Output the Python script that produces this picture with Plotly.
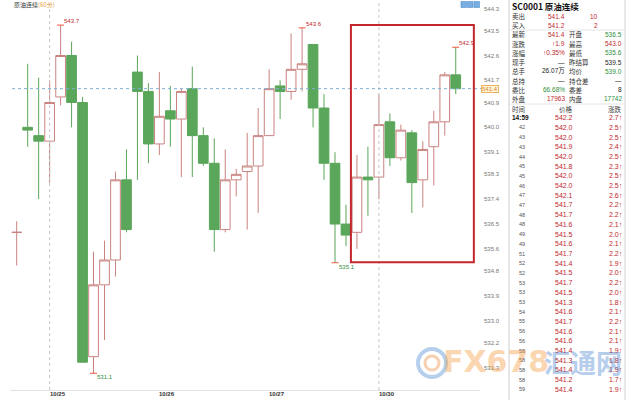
import plotly.graph_objects as go

W, H = 640, 400

# ---------------- data ----------------
idx = list(range(41))
opens = [536.2, 540.0, 539.7, 539.5, 541.1, 542.6, 540.9, 531.7, 534.3, 535.2,
         538.1, 542.0, 541.3, 539.4, 540.6, 540.3, 541.4, 539.7, 538.7, 536.3,
         538.1, 538.4, 538.6, 539.7, 541.5, 541.3, 542.1, 543.0, 540.7, 538.7,
         536.5, 536.2, 538.2, 538.2, 540.2, 538.9, 539.8, 538.1, 539.3, 540.2, 541.9]
highs = [536.6, 542.3, 541.8, 541.7, 543.7, 543.1, 541.1, 535.5, 535.9, 538.4,
         539.2, 542.6, 541.6, 542.0, 541.5, 541.4, 542.2, 540.0, 539.6, 539.2,
         538.5, 539.8, 540.7, 542.1, 541.7, 543.4, 543.6, 543.0, 541.2, 539.1,
         537.2, 539.0, 539.3, 541.2, 540.5, 540.1, 539.9, 539.5, 540.6, 542.0, 542.9]
lows = [535.0, 539.3, 537.4, 538.0, 540.8, 540.0, 531.5, 531.1, 532.3, 534.6,
        536.2, 538.1, 538.7, 539.0, 539.3, 538.2, 538.2, 538.6, 535.5, 536.2,
        537.5, 536.3, 536.9, 539.7, 540.3, 541.0, 541.3, 540.0, 538.1, 535.1,
        535.7, 535.6, 536.8, 537.4, 538.6, 538.8, 536.9, 537.1, 537.9, 539.7, 541.2]
closes = [536.2, 539.9, 539.5, 540.9, 542.6, 540.9, 531.5, 534.3, 535.2, 538.1,
          536.3, 541.3, 539.4, 540.4, 540.3, 541.3, 539.7, 538.7, 536.3, 538.1,
          538.3, 538.6, 539.7, 541.4, 541.3, 542.1, 542.3, 540.7, 538.7, 536.5,
          536.1, 538.2, 538.1, 540.1, 538.9, 539.9, 538.0, 539.2, 540.2, 541.9, 541.4]

date_idx = [3, 13, 23, 33]
date_text = ["10/25", "10/26", "10/27", "10/30"]
sep_idx = [3, 33]

ytick_text = ["544.3", "543.5", "542.6", "541.7", "540.9", "540.0", "539.1", "538.3",
              "537.4", "536.5", "535.6", "534.8", "533.9", "533.0", "532.2", "531.3"]

hi_idx = [4, 26, 40]
lo_idx = [7, 29]

chart_title = "原油连续"
chart_period = "(60分)"
table_title = "SC0001 原油连续"

quote_lbl_l = ["卖出", "买入", "最新", "涨跌", "涨幅", "现手", "总手", "总持", "委比", "外盘"]
quote_val_l = ["541.4", "541.2", "541.4", "↑1.9", "↑0.35%", "—", "26.07万", "—", "66.68%", "17963"]
quote_col_l = ["r", "r", "r", "r", "r", "k", "k", "k", "g", "r"]
quote_lbl_r = ["", "", "开盘", "最高", "最低", "昨结算", "均价", "持仓差", "委差", "内盘"]
quote_val_r = ["10", "2", "536.5", "543.0", "535.6", "539.5", "539.0", "—", "8", "17742"]
quote_col_r = ["r", "r", "g", "r", "g", "k", "g", "k", "k", "g"]

trade_head = ["时间", "价格", "涨跌"]
trade_time = ["14:59", "42", "43", "43", "44", "45", "45", "46", "47", "47", "48", "48", "49", "49", "51",
              "52", "52", "53", "53", "53", "54", "55", "56", "56", "58", "58", "58", "58", "59"]
trade_price = ["542.2", "542.0", "542.0", "541.9", "542.0", "541.8", "542.0", "542.0", "542.1", "541.7",
               "541.7", "541.6", "541.5", "541.6", "541.7", "541.4", "541.5", "541.7", "541.5", "541.3",
               "541.6", "541.7", "541.6", "541.6", "541.4", "541.3", "541.4", "541.2", "541.4"]
trade_chg = ["2.7", "2.5", "2.5", "2.4", "2.5", "2.3", "2.5", "2.5", "2.6", "2.2",
             "2.2", "2.1", "2.0", "2.1", "2.2", "1.9", "2.0", "2.2", "2.0", "1.8",
             "2.1", "2.2", "2.1", "2.1", "1.9", "1.8", "1.9", "1.7", "1.9"]

# ---------------- style ----------------
RED = "#c0272d"
GREEN = "#2e8f3c"
BLACK = "#222222"
UP_LINE = "#c98380"
DN = "#5aa65a"
COLMAP = {"r": RED, "g": GREEN, "k": BLACK}
FONT = "Liberation Sans, Noto Sans CJK SC, sans-serif"
CJK = "Noto Sans CJK SC, Liberation Sans, sans-serif"


def px(x):
    return x / W


def py(y):
    return 1 - y / H


fig = go.Figure()
fig.add_trace(go.Candlestick(
    x=idx, open=opens, high=highs, low=lows, close=closes,
    increasing=dict(line=dict(color=UP_LINE, width=1), fillcolor="white"),
    decreasing=dict(line=dict(color=DN, width=1), fillcolor=DN),
    whiskerwidth=0, showlegend=False, hoverinfo="skip"))

ext_x = [idx[i] for i in hi_idx] + [idx[i] for i in lo_idx]
ext_y = [highs[i] for i in hi_idx] + [lows[i] for i in lo_idx]
fig.add_trace(go.Scatter(x=ext_x, y=ext_y, mode="markers",
                         marker=dict(symbol="line-ew-open", size=5, line=dict(color="#444", width=1)),
                         showlegend=False, hoverinfo="skip"))

ann = []
shapes = []

# extreme labels
for i in hi_idx:
    ann.append(dict(x=idx[i] + 0.15, y=highs[i], xref="x", yref="y", text=f"{highs[i]:.1f}",
                    showarrow=False, xanchor="left", yanchor="middle", yshift=4,
                    font=dict(size=6, color=RED, family=FONT)))
for i in lo_idx:
    ann.append(dict(x=idx[i] + 0.15, y=lows[i], xref="x", yref="y", text=f"{lows[i]:.1f}",
                    showarrow=False, xanchor="left", yanchor="middle", yshift=-4,
                    font=dict(size=6, color=GREEN, family=FONT)))

# date labels
for i, t in zip(date_idx, date_text):
    ann.append(dict(x=i, y=py(394), xref="x", yref="paper", text=f"<b>{t}</b>", showarrow=False,
                    xanchor="left", yanchor="middle", xshift=-2, font=dict(size=6, color="#333", family=FONT)))

# separators
for i in sep_idx:
    shapes.append(dict(type="line", xref="x", yref="paper", x0=i, x1=i, y0=py(390), y1=1,
                       line=dict(color="#c8c8c8", width=1, dash="dot")))

# current price line and tag
last = closes[-1]
shapes.append(dict(type="line", xref="paper", yref="y", x0=px(12), x1=px(481), y0=last, y1=last,
                   line=dict(color="#7fb0d6", width=1, dash="dot")))
ann.append(dict(x=px(489.5), y=last, xref="paper", yref="y", text=f"{last:.1f}", showarrow=False,
                xanchor="center", yanchor="middle", bgcolor="#fff4d8", bordercolor="#efb462",
                borderwidth=1, borderpad=0, font=dict(size=6, color="#d8892e", family=FONT)))

# highlight box
shapes.append(dict(type="rect", xref="x", yref="y", x0=30.45, x1=41.65, y0=535.12, y1=543.70,
                   line=dict(color="#c4262e", width=2), fillcolor="rgba(0,0,0,0)"))

# chart title
ann.append(dict(x=px(12), y=py(4), xref="paper", yref="paper", showarrow=False, xanchor="left",
                yanchor="middle",
                text=f"{chart_title}<span style='color:#e3a03e'>{chart_period}</span>",
                font=dict(size=6, color="#333", family=CJK)))

# small toolbar icons
for x0 in [461, 467.5, 474]:
    shapes.append(dict(type="rect", xref="paper", yref="paper", x0=px(x0), x1=px(x0 + 5.5),
                       y0=py(7.5), y1=py(1.5), line=dict(color="#4f8fcf", width=0.6),
                       fillcolor="#79aee0"))

# ---------------- side table ----------------
shapes.append(dict(type="line", xref="paper", yref="paper", x0=px(509), x1=px(509), y0=0, y1=1,
                   line=dict(color="#cfcfcf", width=1)))
shapes.append(dict(type="line", xref="paper", yref="paper", x0=px(625), x1=px(625), y0=0, y1=1,
                   line=dict(color="#cfcfcf", width=1)))
for yy in [30, 104]:
    shapes.append(dict(type="line", xref="paper", yref="paper", x0=px(509), x1=px(625), y0=py(yy), y1=py(yy),
                       line=dict(color="#e6e6e6", width=1)))

ann.append(dict(x=px(510), y=py(6), xref="paper", yref="paper", showarrow=False, xanchor="left",
                yanchor="middle", text=f"<b>{table_title}</b>", font=dict(size=8.5, color="#111", family=CJK)))

for k in range(len(quote_lbl_l)):
    yy = 16 + 9.22 * k
    ann.append(dict(x=px(510), y=py(yy), xref="paper", yref="paper", showarrow=False, xanchor="left",
                    yanchor="middle", text=quote_lbl_l[k], font=dict(size=6.5, color="#333", family=CJK)))
    ann.append(dict(x=px(567), y=py(yy), xref="paper", yref="paper", showarrow=False, xanchor="right",
                    yanchor="middle", text=quote_val_l[k],
                    font=dict(size=6.5, color=COLMAP[quote_col_l[k]], family=FONT)))
    if quote_lbl_r[k]:
        ann.append(dict(x=px(567), y=py(yy), xref="paper", yref="paper", showarrow=False, xanchor="left",
                        yanchor="middle", text=quote_lbl_r[k], font=dict(size=6.5, color="#333", family=CJK)))
        ann.append(dict(x=px(624), y=py(yy), xref="paper", yref="paper", showarrow=False, xanchor="right",
                        yanchor="middle", text=quote_val_r[k],
                        font=dict(size=6.5, color=COLMAP[quote_col_r[k]], family=FONT)))
    else:
        ann.append(dict(x=px(600), y=py(yy), xref="paper", yref="paper", showarrow=False, xanchor="right",
                        yanchor="middle", text=quote_val_r[k],
                        font=dict(size=6.5, color=COLMAP[quote_col_r[k]], family=FONT)))

# trade list header
ann.append(dict(x=px(510), y=py(109), xref="paper", yref="paper", showarrow=False, xanchor="left",
                yanchor="middle", text=trade_head[0], font=dict(size=6.5, color="#444", family=CJK)))
ann.append(dict(x=px(566), y=py(109), xref="paper", yref="paper", showarrow=False, xanchor="center",
                yanchor="middle", text=trade_head[1], font=dict(size=6.5, color="#444", family=CJK)))
ann.append(dict(x=px(624), y=py(109), xref="paper", yref="paper", showarrow=False, xanchor="right",
                yanchor="middle", text=trade_head[2], font=dict(size=6.5, color="#444", family=CJK)))

for k in range(len(trade_time)):
    yy = 117.7 + 9.7 * k
    t = trade_time[k]
    if k == 0:
        ann.append(dict(x=px(510), y=py(yy), xref="paper", yref="paper", showarrow=False, xanchor="left",
                        yanchor="middle", text=f"<b>{t}</b>", font=dict(size=6.5, color="#111", family=FONT)))
    else:
        ann.append(dict(x=px(527), y=py(yy), xref="paper", yref="paper", showarrow=False, xanchor="right",
                        yanchor="middle", text=t, font=dict(size=5.5, color="#555", family=FONT)))
    ann.append(dict(x=px(575), y=py(yy), xref="paper", yref="paper", showarrow=False, xanchor="right",
                    yanchor="middle", text=trade_price[k], font=dict(size=7, color=RED, family=FONT)))
    ann.append(dict(x=px(624), y=py(yy), xref="paper", yref="paper", showarrow=False, xanchor="right",
                    yanchor="middle", text=f"{trade_chg[k]}↑", font=dict(size=7, color=RED, family=FONT)))

# ---------------- watermark ----------------
shapes.append(dict(type="circle", xref="paper", yref="paper", x0=px(418), x1=px(446), y0=py(377), y1=py(349),
                   line=dict(color="rgba(110,160,220,0.5)", width=4)))
shapes.append(dict(type="circle", xref="paper", yref="paper", x0=px(425), x1=px(439), y0=py(370), y1=py(356),
                   line=dict(color="rgba(240,160,100,0.5)", width=3)))
ann.append(dict(x=px(496), y=py(361), xref="paper", yref="paper", showarrow=False, xanchor="center",
                yanchor="middle", text="<b>FX678</b>", opacity=0.4,
                font=dict(size=30, color="#f49a3e", family="DejaVu Sans, sans-serif")))
ann.append(dict(x=px(583), y=py(361), xref="paper", yref="paper", showarrow=False, xanchor="center",
                yanchor="middle", text="<b>汇通网</b>", opacity=0.4,
                font=dict(size=26, color="#4a86d0", family=CJK)))

fig.update_layout(
    width=W, height=H, margin=dict(l=0, r=0, t=0, b=0),
    paper_bgcolor="white", plot_bgcolor="white", showlegend=False,
    boxgap=0.06, boxgroupgap=0.06,
    font=dict(family=FONT),
    xaxis=dict(domain=[px(10), px(480)], range=[-0.61, 42.21], rangeslider=dict(visible=False),
               showgrid=False, zeroline=False, showticklabels=False, showline=True,
               linecolor="#e2e2e2", linewidth=1, fixedrange=True),
    yaxis=dict(domain=[1 - 390 / H, 1], range=[530.494, 544.609], side="right",
               tickvals=[float(t) for t in ytick_text], ticktext=ytick_text,
               showgrid=False, zeroline=False, ticks="", showline=False,
               tickfont=dict(size=6, color="#777", family=FONT), ticklabelstandoff=3, fixedrange=True),
    annotations=ann, shapes=shapes,
)

fig.write_html("out.html", config={"displayModeBar": False},
               post_script="document.body.style.margin='0';document.body.style.padding='0';")
